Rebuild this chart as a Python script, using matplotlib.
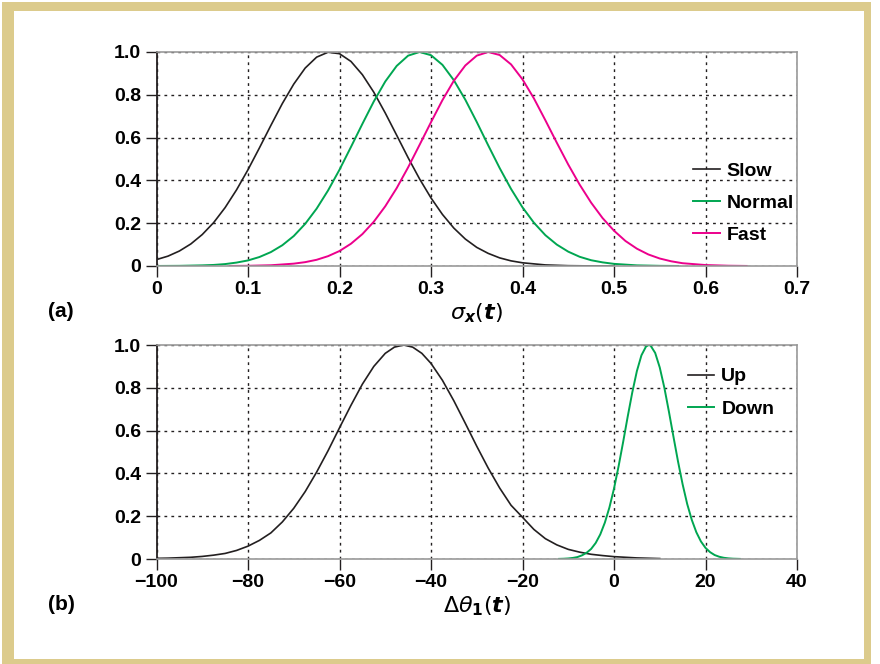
import matplotlib
matplotlib.use("Agg")
import matplotlib.pyplot as plt
from matplotlib.patches import Rectangle
from matplotlib import font_manager

# ---------------- data ----------------
slow_x = [0, 0.0125, 0.025, 0.0375, 0.05, 0.0625, 0.075, 0.0875, 0.1, 0.1125, 0.125, 0.1375,
          0.15, 0.1625, 0.175, 0.1875, 0.2, 0.2125, 0.225, 0.2375, 0.25, 0.2625, 0.275, 0.2875,
          0.3, 0.3125, 0.325, 0.3375, 0.35, 0.3625, 0.375, 0.3875, 0.4, 0.425, 0.45, 0.475, 0.5]
slow_y = [0.030, 0.046, 0.070, 0.103, 0.147, 0.203, 0.273, 0.356, 0.450, 0.552, 0.657, 0.759,
          0.850, 0.925, 0.976, 0.999, 0.992, 0.956, 0.894, 0.812, 0.715, 0.611, 0.506, 0.407,
          0.318, 0.241, 0.177, 0.126, 0.087, 0.059, 0.038, 0.024, 0.015, 0.005, 0.0015, 0.0004, 0.0001]

normal_x = [0, 0.025, 0.05, 0.0625, 0.075, 0.0875, 0.1, 0.1125, 0.125, 0.1375, 0.15, 0.1625,
            0.175, 0.1875, 0.2, 0.2125, 0.225, 0.2375, 0.25, 0.2625, 0.275, 0.2875, 0.3, 0.3125,
            0.325, 0.3375, 0.35, 0.3625, 0.375, 0.3875, 0.4, 0.4125, 0.425, 0.4375, 0.45, 0.4625,
            0.475, 0.4875, 0.5, 0.525, 0.55, 0.57]
normal_y = [0.0002, 0.0008, 0.003, 0.005, 0.009, 0.016, 0.026, 0.042, 0.065, 0.097, 0.140, 0.197,
            0.268, 0.353, 0.450, 0.556, 0.664, 0.769, 0.862, 0.935, 0.983, 1.0, 0.985, 0.940,
            0.868, 0.777, 0.673, 0.564, 0.458, 0.360, 0.274, 0.202, 0.144, 0.100, 0.067, 0.043,
            0.027, 0.017, 0.010, 0.003, 0.0008, 0.0002]

fast_x = [0.08, 0.1, 0.125, 0.15, 0.1625, 0.175, 0.1875, 0.2, 0.2125, 0.225, 0.2375, 0.25,
          0.2625, 0.275, 0.2875, 0.3, 0.3125, 0.325, 0.3375, 0.35, 0.3625, 0.375, 0.3875, 0.4,
          0.4125, 0.425, 0.4375, 0.45, 0.4625, 0.475, 0.4875, 0.5, 0.5125, 0.525, 0.5375, 0.55,
          0.5625, 0.575, 0.6, 0.625, 0.645]
fast_y = [0.0003, 0.001, 0.0035, 0.011, 0.018, 0.029, 0.046, 0.070, 0.104, 0.149, 0.207, 0.279,
          0.364, 0.461, 0.566, 0.672, 0.775, 0.866, 0.937, 0.983, 1.0, 0.986, 0.942, 0.872,
          0.783, 0.681, 0.576, 0.474, 0.380, 0.296, 0.224, 0.165, 0.117, 0.081, 0.054, 0.035,
          0.022, 0.013, 0.0045, 0.0013, 0.0003]

up_x = [-100, -97.5, -95, -92.5, -90, -87.5, -85, -82.5, -80, -77.5, -75, -72.5, -70, -67.5,
        -65, -62.5, -60, -57.5, -55, -52.5, -50, -48, -46, -44, -42, -40, -37.5, -35, -32.5,
        -30, -27.5, -25, -22.5, -20, -17.5, -15, -12.5, -10, -7.5, -5, -2.5, 0, 5, 10]
up_y = [0.003, 0.004, 0.006, 0.008, 0.012, 0.018, 0.026, 0.040, 0.060, 0.087, 0.122, 0.173,
        0.237, 0.315, 0.406, 0.506, 0.613, 0.718, 0.817, 0.900, 0.961, 0.990, 1.0, 0.990,
        0.961, 0.914, 0.835, 0.739, 0.634, 0.527, 0.425, 0.332, 0.251, 0.195, 0.138, 0.095,
        0.066, 0.045, 0.032, 0.022, 0.016, 0.011, 0.005, 0.002]

down_x = [-12, -11, -10, -9, -8, -7, -6, -5, -4, -3, -2, -1, 0, 1, 2, 3, 4, 5, 6, 7, 7.6, 8,
          9, 10, 11, 12, 13, 14, 15, 16, 17, 18, 19, 20, 21, 22, 23, 24, 25, 26, 27.5]
down_y = [0.0006, 0.0013, 0.0026, 0.005, 0.009, 0.017, 0.029, 0.047, 0.075, 0.115, 0.170, 0.241,
          0.329, 0.433, 0.547, 0.666, 0.779, 0.878, 0.952, 0.993, 1.0, 0.997, 0.963, 0.895,
          0.801, 0.689, 0.571, 0.455, 0.349, 0.257, 0.183, 0.125, 0.082, 0.052, 0.032, 0.0185,
          0.0105, 0.0057, 0.003, 0.0015, 0.0005]

top_xticks = [0, 0.1, 0.2, 0.3, 0.4, 0.5, 0.6, 0.7]
top_xticklabels = ["0", "0.1", "0.2", "0.3", "0.4", "0.5", "0.6", "0.7"]
bot_xticks = [-100, -80, -60, -40, -20, 0, 20, 40]
bot_xticklabels = ["\u2212100", "\u221280", "\u221260", "\u221240", "\u221220", "0", "20", "40"]
yticks = [0, 0.2, 0.4, 0.6, 0.8, 1.0]
yticklabels = ["0", "0.2", "0.4", "0.6", "0.8", "1.0"]

# ---------------- styling ----------------
names = {f.name for f in font_manager.fontManager.ttflist}
FONT = "Liberation Sans Narrow" if "Liberation Sans Narrow" in names else "Liberation Sans"
plt.rcParams["font.family"] = [FONT, "DejaVu Sans"]
plt.rcParams["mathtext.fontset"] = "dejavusans"

BLACK = "#231f20"
GREEN = "#00a651"
PINK = "#ec008c"
GOLD = "#dccb8c"

fig = plt.figure(figsize=(8.8, 6.64), dpi=100)
fig.patch.set_facecolor("white")

W, H = 880.0, 664.0
fig.patches.append(Rectangle((2 / W, 0), 869 / W, 662 / H, transform=fig.transFigure,
                             facecolor=GOLD, edgecolor="none", zorder=-2))
fig.patches.append(Rectangle((14 / W, 5 / H), 850 / W, 648 / H, transform=fig.transFigure,
                             facecolor="white", edgecolor="none", zorder=-1))

LEG_PROP = {"family": [FONT, "DejaVu Sans"], "weight": "bold", "size": 14}


def style_axes(ax):
    ax.set_ylim(0, 1.0)
    ax.set_yticks(yticks)
    ax.set_yticklabels(yticklabels)
    ax.grid(True, color=BLACK, linestyle=(0, (2, 3)), linewidth=1.0)
    ax.set_axisbelow(True)
    for s in ["top", "right", "bottom"]:
        ax.spines[s].set_color("#9a9a9a")
        ax.spines[s].set_linewidth(1.2)
    ax.spines["left"].set_color(BLACK)
    ax.spines["left"].set_linewidth(1.3)
    ax.tick_params(direction="out", length=8, width=1.0, color=BLACK,
                   labelsize=14, pad=3)
    for lab in ax.get_xticklabels() + ax.get_yticklabels():
        lab.set_fontweight("bold")


# top panel
ax1 = fig.add_axes([156.5 / W, 1 - 266 / H, (797 - 156.5) / W, (266 - 52) / H])
ax1.plot(slow_x, slow_y, color=BLACK, lw=1.2, label="Slow")
ax1.plot(normal_x, normal_y, color=GREEN, lw=1.4, label="Normal")
ax1.plot(fast_x, fast_y, color=PINK, lw=1.4, label="Fast")
ax1.set_xlim(0, 0.7)
ax1.set_xticks(top_xticks)
ax1.set_xticklabels(top_xticklabels)
style_axes(ax1)
ax1.legend(loc="upper left", bbox_to_anchor=(0.826, 0.521), frameon=False, prop=LEG_PROP,
           handlelength=1.35, handletextpad=0.35, labelspacing=0.75, borderaxespad=0)
ax1.set_xlabel(r"$\sigma_{\mathbfit{x}}(\mathbfit{t})$", fontsize=16, labelpad=2)

# bottom panel
ax2 = fig.add_axes([156.5 / W, 1 - 559 / H, (797 - 156.5) / W, (559 - 345) / H])
ax2.plot(up_x, up_y, color=BLACK, lw=1.2, label="Up")
ax2.plot(down_x, down_y, color=GREEN, lw=1.4, label="Down")
ax2.set_xlim(-100, 40)
ax2.set_xticks(bot_xticks)
ax2.set_xticklabels(bot_xticklabels)
style_axes(ax2)
ax2.legend(loc="upper left", bbox_to_anchor=(0.818, 0.93), frameon=False, prop=LEG_PROP,
           handlelength=1.35, handletextpad=0.35, labelspacing=0.75, borderaxespad=0)
ax2.set_xlabel(r"$\Delta\theta_{\mathbf{1}}(\mathbfit{t})$", fontsize=16, labelpad=2)

fig.text(48 / W, 1 - 311 / H, "(a)", fontsize=15, fontweight="bold", va="center", ha="left")
fig.text(48 / W, 1 - 605 / H, "(b)", fontsize=15, fontweight="bold", va="center", ha="left")

fig.savefig("out.png", dpi=100, facecolor="white")
